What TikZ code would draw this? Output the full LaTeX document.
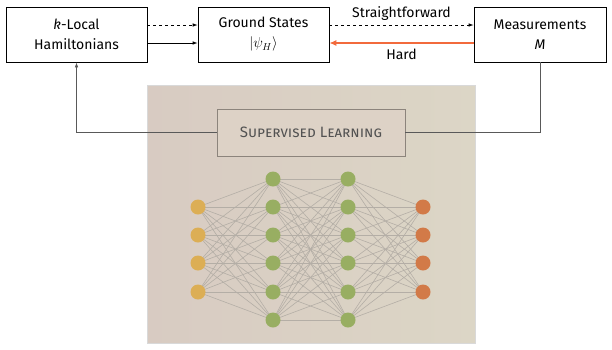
\documentclass[tikz,border=0pt]{standalone}
\usepackage{fontspec}
\setmainfont{Fira Sans}
\usetikzlibrary{arrows.meta,calc}
\definecolor{panL}{HTML}{D8CBC2}
\definecolor{panR}{HTML}{DCD6C6}
\definecolor{slfill}{HTML}{DDD2C6}
\definecolor{slline}{HTML}{8C847C}
\definecolor{inC}{HTML}{DCAE55}
\definecolor{hidC}{HTML}{98AE62}
\definecolor{outC}{HTML}{D27A48}
\definecolor{hardC}{HTML}{F26A3C}
\definecolor{edgeC}{HTML}{B4AEA6}
\begin{document}
\begin{tikzpicture}[x=1pt,y=-1pt,
  box/.style={draw=black,line width=0.7pt,fill=white,align=center,inner sep=0pt,font=\fontsize{14}{20}\selectfont},
  arr/.style={-{Latex[length=5pt,width=3.5pt]},line width=0.7pt},
  neuron/.style={circle,minimum size=15pt,inner sep=0pt},
  conn/.style={line width=0.6pt,color=black!65}]
\useasboundingbox (0,0) rectangle (612,349);
% panel
\shade[left color=panL,right color=panR] (147,85) rectangle (475,343);
\draw[white!85!black,line width=0.6pt] (147,85) rectangle (475,343);
% boxes
\node[box,minimum width=141pt,minimum height=55pt] (kl) at (76.5,34.5) {\textit{k}-Local\\Hamiltonians};
\node[box,minimum width=131pt,minimum height=55pt] (gs) at (263.5,34.5) {Ground States\\$|\psi_H\rangle$};
\node[box,minimum width=132pt,minimum height=55pt] (ms) at (540,34.5) {Measurements\\\textit{M}};
\node[draw=slline,line width=0.9pt,fill=slfill,minimum width=188pt,minimum height=47pt,inner sep=0pt,text=black!68,font=\fontsize{15}{18}\selectfont] (sl) at (311,132.5) {\textsc{Supervised Learning}};
% arrows
\draw[arr,dashed] (kl.east|-0,25) -- (gs.west|-0,25);
\draw[arr] (kl.east|-0,43) -- (gs.west|-0,43);
\draw[arr,dashed] (gs.east|-0,25) -- node[above=1pt,font=\fontsize{14}{16}\selectfont]{Straightforward} (ms.west|-0,25);
\draw[-{Latex[length=7pt,width=6pt]},draw=hardC,fill=hardC,line width=1.3pt] (ms.west|-0,43) -- node[below=2pt,font=\fontsize{14}{16}\selectfont,text=black]{Hard} (gs.east|-0,43);
\draw[conn,arr] (sl.west) -| (kl.south);
\draw[conn] (sl.east) -| (ms.south);
% network
\foreach \i/\y in {1/207,2/235,3/263,4/292} {
  \coordinate (a\i) at (198,\y);
  \coordinate (d\i) at (423,\y);
}
\foreach \i/\y in {1/179,2/207,3/235,4/263,5/292,6/320} {
  \coordinate (b\i) at (273,\y);
  \coordinate (c\i) at (348,\y);
}
\foreach \i in {1,...,4} \foreach \j in {1,...,6} \draw[edgeC,line width=0.6pt] (a\i) -- (b\j);
\foreach \i in {1,...,6} \foreach \j in {1,...,6} \draw[edgeC,line width=0.6pt] (b\i) -- (c\j);
\foreach \i in {1,...,6} \foreach \j in {1,...,4} \draw[edgeC,line width=0.6pt] (c\i) -- (d\j);
\foreach \i in {1,...,4} {
  \node[neuron,fill=inC] (na\i) at (a\i) {};
  \node[neuron,fill=outC] (nd\i) at (d\i) {};
}
\foreach \i in {1,...,6} {
  \node[neuron,fill=hidC] (nb\i) at (b\i) {};
  \node[neuron,fill=hidC] (nc\i) at (c\i) {};
}
\end{tikzpicture}
\end{document}
